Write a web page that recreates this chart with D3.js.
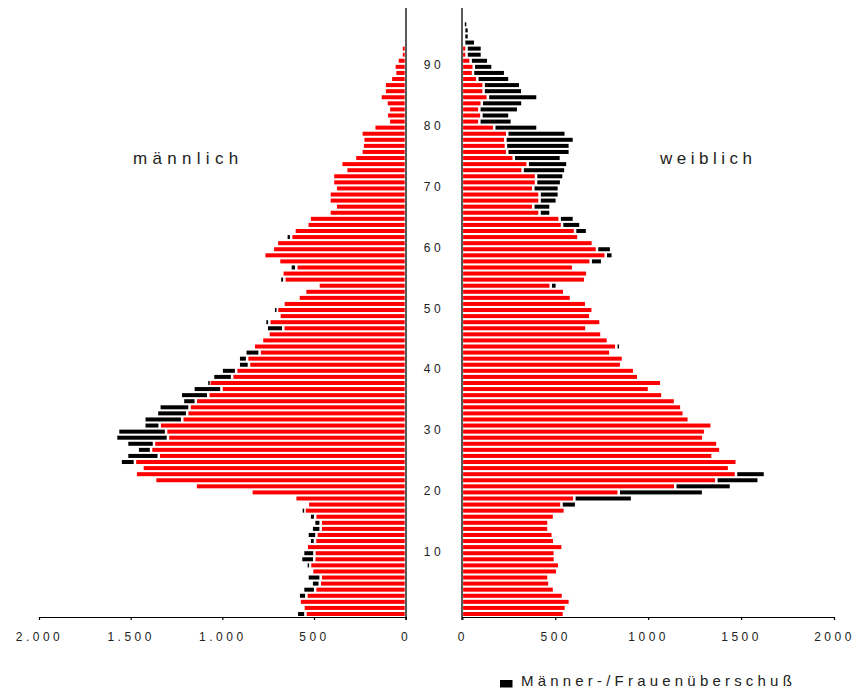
<!DOCTYPE html>
<html><head><meta charset="utf-8">
<script src="https://cdn.jsdelivr.net/npm/d3@7"></script>
<style>
html,body{margin:0;padding:0;background:#fff;}
svg{display:block;font-family:"Liberation Sans",Arial,sans-serif;}
</style></head>
<body>
<svg id="c" width="855" height="693"></svg>
<script>
// ages 0..97
const ages = d3.range(0, 98);
const male = [587,551,572,577,553,506,529,504,535,564,
  553,533,517,529,506,493,517,562,527,596,
  835,1139,1360,1466,1429,1548,1513,1455,1513,1573,
  1562,1419,1419,1350,1337,1208,1220,1151,1077,1044,
  997,904,904,868,822,777,742,751,760,682,
  713,660,578,542,469,679,666,622,684,765,
  718,696,644,600,530,517,409,375,409,409,
  375,390,390,318,345,270,235,228,225,235,
  165,85,96,85,98,131,108,108,74,51,
  55,38,16,16,3,3,3,0];
const female = [540,551,572,535,487,462,457,504,515,492,
  491,533,488,480,457,457,487,545,606,907,
  1289,1439,1588,1622,1429,1470,1340,1382,1366,1290,
  1300,1335,1212,1185,1172,1138,1070,998,1064,940,
  918,848,858,790,843,777,742,661,737,682,
  695,660,578,542,502,655,666,590,746,803,
  794,696,618,665,629,594,468,468,502,513,
  513,525,538,548,559,524,572,572,594,550,
  398,260,247,294,317,398,316,305,247,224,
  156,133,99,99,63,29,29,16];
const tickValues = [0, 500, 1000, 1500, 2000];
const leftTickLabels = ["0", "500", "1.000", "1.500", "2.000"];
const rightTickLabels = ["0", "500", "1000", "1500", "2000"];
const ageTicks = [10, 20, 30, 40, 50, 60, 70, 80, 90];
const titles = {left: "männlich", right: "weiblich"};
const legendLabel = "Männer-/Frauenüberschuß";

const svg = d3.select("#c");
const xL = d3.scaleLinear().domain([0, 2000]).range([405.7, 39]);
const xR = d3.scaleLinear().domain([0, 2000]).range([462.3, 834]);
const y = d3.scaleLinear().domain([0, 97]).range([614, 24.3]);
const barH = 4, gap = 2.5;
const data = ages.map((a, i) => ({age: a, m: male[i], f: female[i]}));

// red bars (common part)
svg.append("g").selectAll("rect").data(data).join("rect")
  .attr("x", d => xL(Math.min(d.m, d.f)))
  .attr("y", d => y(d.age) - barH / 2)
  .attr("width", d => xL(0) - 1 - xL(Math.min(d.m, d.f)))
  .attr("height", barH).attr("fill", "#ff0000");
svg.append("g").selectAll("rect").data(data).join("rect")
  .attr("x", xR(0) + 0.8)
  .attr("y", d => y(d.age) - barH / 2)
  .attr("width", d => Math.max(0, xR(Math.min(d.m, d.f)) - xR(0) - 0.8))
  .attr("height", barH).attr("fill", "#ff0000");

// black surplus bars
svg.append("g").selectAll("rect").data(data.filter(d => d.m > d.f)).join("rect")
  .attr("x", d => xL(d.m))
  .attr("y", d => y(d.age) - barH / 2)
  .attr("width", d => Math.max(1.5, xL(d.f) - gap - xL(d.m)))
  .attr("height", barH).attr("fill", "#000");
svg.append("g").selectAll("rect").data(data.filter(d => d.f > d.m)).join("rect")
  .attr("x", d => xR(d.m) + gap)
  .attr("y", d => y(d.age) - barH / 2)
  .attr("width", d => Math.max(1.5, xR(d.f) - xR(d.m) - gap))
  .attr("height", barH).attr("fill", "#000");

// axes
const baseY = 617;
function styleAxis(g) {
  g.selectAll("path.domain").attr("stroke", "#000").attr("stroke-width", 1.2);
  g.selectAll(".tick line").attr("stroke", "#000").attr("stroke-width", 1.2);
  g.selectAll(".tick text").attr("font-size", 12).attr("fill", "#222")
    .attr("font-family", "Liberation Sans, Arial, sans-serif")
    .style("letter-spacing", "3.5px").attr("dy", "1.5em");
}
svg.append("g").attr("transform", `translate(0,${baseY})`)
  .call(d3.axisBottom(xL).tickValues(tickValues).tickSize(3).tickSizeOuter(0)
    .tickFormat((d, i) => leftTickLabels[i]))
  .call(styleAxis);
svg.append("g").attr("transform", `translate(0,${baseY})`)
  .call(d3.axisBottom(xR).tickValues(tickValues).tickSize(3).tickSizeOuter(0)
    .tickFormat((d, i) => rightTickLabels[i]))
  .call(styleAxis);

// vertical axis lines
svg.append("line").attr("x1", 406).attr("x2", 406).attr("y1", 8).attr("y2", baseY + 3)
  .attr("stroke", "#000").attr("stroke-width", 1.3);
svg.append("line").attr("x1", 462).attr("x2", 462).attr("y1", 8).attr("y2", baseY + 3)
  .attr("stroke", "#000").attr("stroke-width", 1.3);

// age labels
svg.append("g").selectAll("text").data(ageTicks).join("text")
  .attr("x", 434).attr("y", d => y(d) + 2.5)
  .attr("text-anchor", "middle").attr("font-size", 12).attr("fill", "#222")
  .style("letter-spacing", "3.5px").text(d => d);

// titles
svg.append("text").attr("x", 133).attr("y", 164).attr("font-size", 17).attr("fill", "#222")
  .style("letter-spacing", "5.3px").text(titles.left);
svg.append("text").attr("x", 660).attr("y", 164).attr("font-size", 17).attr("fill", "#222")
  .style("letter-spacing", "4.5px").text(titles.right);

// legend
svg.append("rect").attr("x", 500).attr("y", 680).attr("width", 12.5).attr("height", 7.5).attr("fill", "#000");
svg.append("text").attr("x", 521).attr("y", 686).attr("font-size", 15).attr("fill", "#222")
  .style("letter-spacing", "4.2px").text(legendLabel);
</script>
</body></html>
